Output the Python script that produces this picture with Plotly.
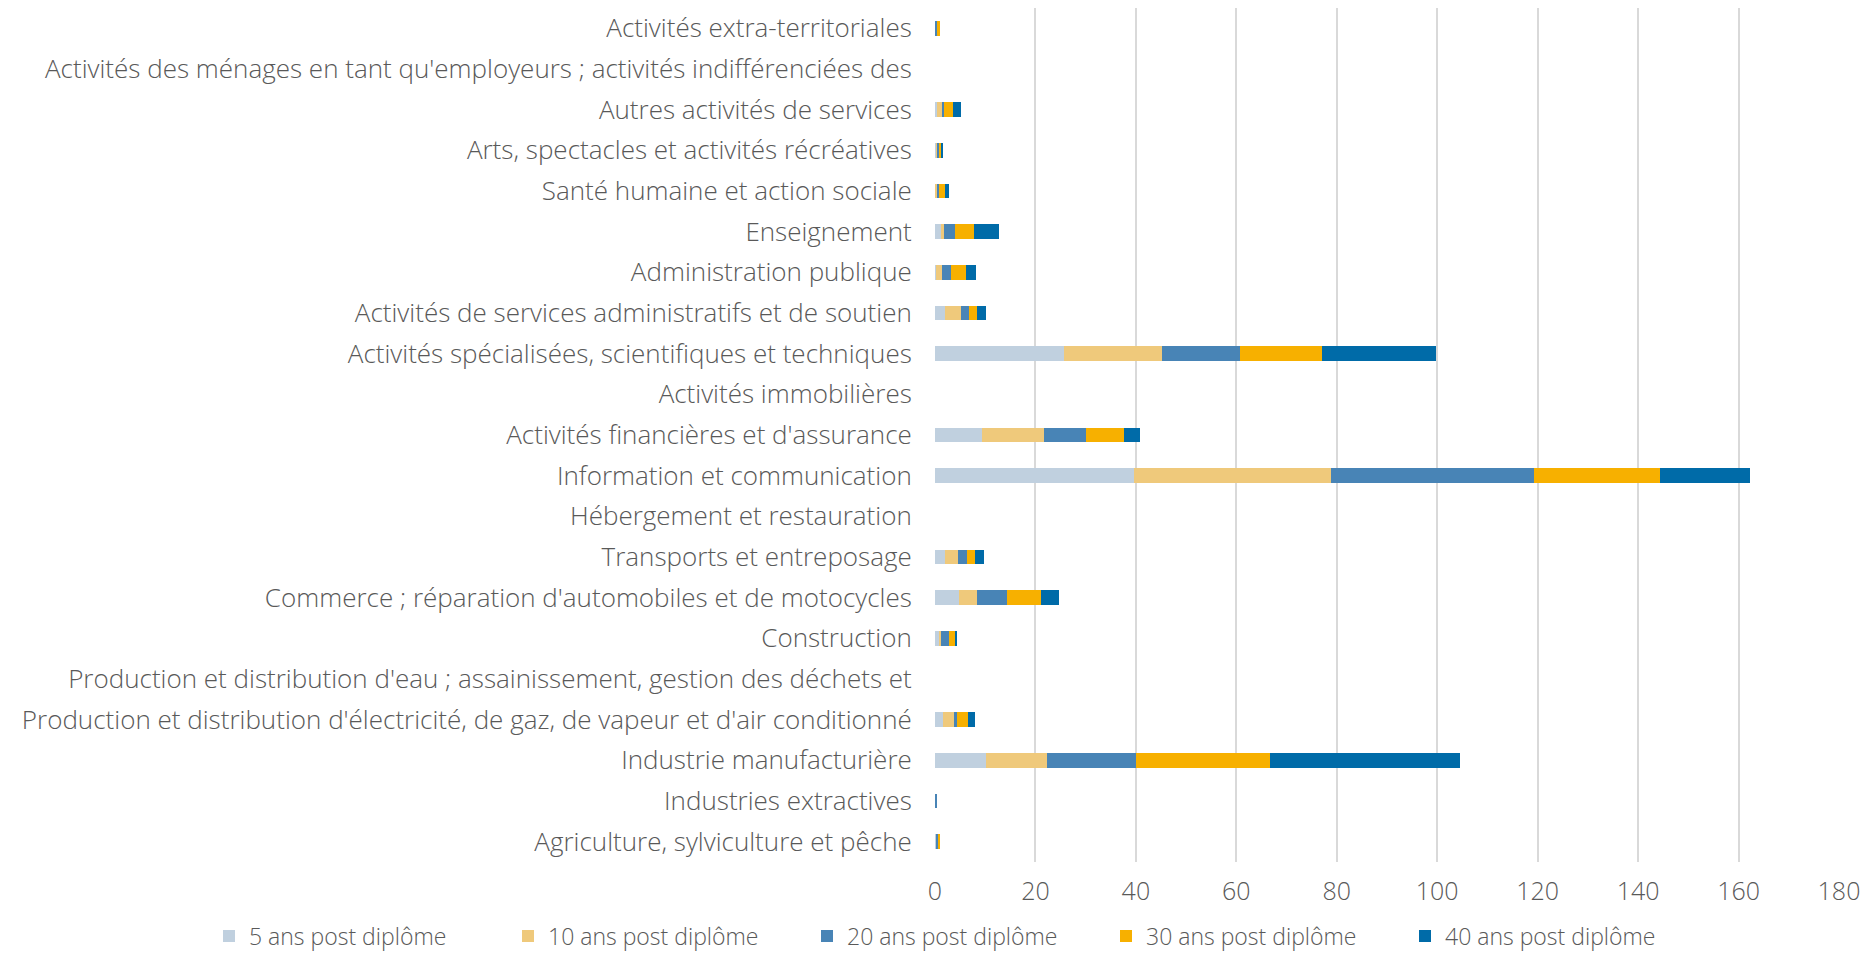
import plotly.graph_objects as go

categories = [
    "Agriculture, sylviculture et pêche",
    "Industries extractives",
    "Industrie manufacturière",
    "Production et distribution d'électricité, de gaz, de vapeur et d'air conditionné",
    "Production et distribution d'eau ; assainissement, gestion des déchets et",
    "Construction",
    "Commerce ; réparation d'automobiles et de motocycles",
    "Transports et entreposage",
    "Hébergement et restauration",
    "Information et communication",
    "Activités financières et d'assurance",
    "Activités immobilières",
    "Activités spécialisées, scientifiques et techniques",
    "Activités de services administratifs et de soutien",
    "Administration publique",
    "Enseignement",
    "Santé humaine et action sociale",
    "Arts, spectacles et activités récréatives",
    "Autres activités de services",
    "Activités des ménages en tant qu'employeurs ; activités indifférenciées des",
    "Activités extra-territoriales",
]

ans5 = [0.1, 0.1, 10.2, 1.5, 0, 0.7, 4.8, 1.9, 0, 39.6, 9.4, 0, 25.7, 1.9, 0.1, 1.1, 0, 0.3, 0.33, 0, 0]
ans10 = [0, 0, 12.1, 2.3, 0, 0.5, 3.5, 2.6, 0, 39.3, 12.4, 0, 19.5, 3.3, 1.3, 0.7, 0.3, 0.1, 1.13, 0, 0]
ans20 = [0.45, 0.2, 17.7, 0.5, 0, 1.5, 6.0, 1.9, 0, 40.4, 8.3, 0, 15.5, 1.6, 1.8, 2.1, 0.5, 0.3, 0.4, 0, 0.4]
ans30 = [0.5, 0, 26.8, 2.3, 0, 1.4, 6.8, 1.5, 0, 25.1, 7.6, 0, 16.3, 1.5, 2.9, 3.9, 1.1, 0.5, 1.8, 0, 0.5]
ans40 = [0, 0, 37.8, 1.3, 0, 0.3, 3.5, 1.8, 0, 17.9, 3.1, 0, 22.7, 1.8, 2.1, 4.9, 0.9, 0.3, 1.53, 0, 0]

series_names = ["5 ans post diplôme", "10 ans post diplôme", "20 ans post diplôme",
                "30 ans post diplôme", "40 ans post diplôme"]
series_values = [ans5, ans10, ans20, ans30, ans40]
colors = ["#C0D0DF", "#EFC97B", "#4884B6", "#F7B000", "#006BA8"]

xticks = [0, 20, 40, 60, 80, 100, 120, 140, 160, 180]

FONT = "'Open Sans', Lato, sans-serif"
TXT = "#595959"
FS = 25

fig = go.Figure()
for name, vals, col in zip(series_names, series_values, colors):
    fig.add_trace(go.Bar(
        y=categories, x=vals, name=name, orientation="h",
        marker=dict(color=col, line=dict(width=0)),
    ))

# page body has an 8px margin: figure is drawn at (8, 8)
W, H = 1860, 945
L, R, T, B = 927, 29, 0, 91
PW = W - L - R
PH = H - T - B

fig.update_layout(
    width=W, height=H,
    barmode="stack",
    bargap=0.64,
    plot_bgcolor="white",
    paper_bgcolor="white",
    margin=dict(l=L, r=R, t=T, b=B, autoexpand=False),
    font=dict(family=FONT, size=FS, color=TXT, weight=300),
    legend=dict(
        orientation="h",
        x=(201 - L) / PW, xanchor="left",
        y=(PH - 928) / PH, yanchor="middle",
        traceorder="normal",
        entrywidth=254, entrywidthmode="pixels",
        font=dict(family=FONT, size=23, color=TXT, weight=300),
        itemwidth=30,
        bgcolor="rgba(0,0,0,0)",
    ),
    xaxis=dict(
        range=[0, 180],
        tickvals=xticks,
        ticktext=[str(v) for v in xticks],
        showgrid=True, gridcolor="#D9D9D9", gridwidth=1.5,
        zeroline=False,
        showline=False,
        ticks="outside", ticklen=7, tickcolor="rgba(0,0,0,0)",
        tickfont=dict(family=FONT, size=FS, color=TXT, weight=300),
        fixedrange=True,
    ),
    yaxis=dict(
        type="category",
        categoryorder="array", categoryarray=categories,
        showgrid=False, zeroline=False, showline=False,
        ticks="outside", ticklen=17, tickcolor="rgba(0,0,0,0)",
        tickfont=dict(family=FONT, size=26, color=TXT, weight=300),
        automargin=False,
        fixedrange=True,
    ),
    showlegend=True,
)

fig.write_html("out.html")
